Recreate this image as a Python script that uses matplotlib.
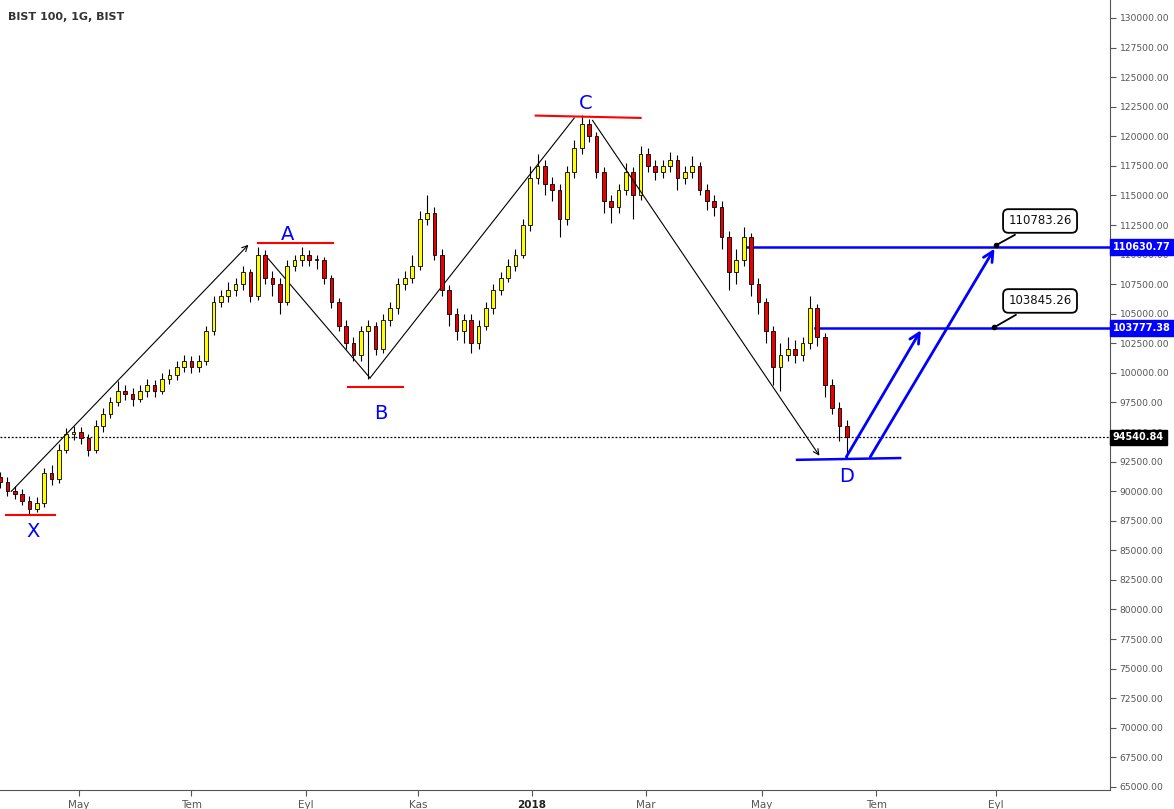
import matplotlib
matplotlib.use("Agg")
import matplotlib.pyplot as plt
import numpy as np
from matplotlib.transforms import blended_transform_factory

# ---- data (approximate) ----
opens = [91200,90800,90000,89800,89200,88500,89000,91500,91000,93500,
94800,95000,94500,93500,95500,96500,97500,98500,98200,97800,
98500,99000,98500,99500,99800,100500,101000,100500,101000,103500,
106000,106500,107000,107500,108500,106500,110000,108000,107500,106000,
109000,109500,110000,109500,109500,108000,106000,104000,102500,101500,
103500,104000,102000,104500,105500,107500,108000,109000,113000,113500,
110000,107000,105000,103500,104500,102500,104000,105500,107000,108000,
109000,110000,112500,116500,117500,116000,115500,113000,117000,119000,
121000,120000,117000,114500,114000,115500,117000,115000,118500,117500,
117000,117500,118000,116500,117000,117500,115500,114500,114000,111500,
108500,109500,111500,107500,106000,103500,100500,101500,102000,101500,
102500,105500,103000,99000,97000,95500]
closes = [90800,90000,89800,89200,88500,89000,91500,91000,93500,94800,
95000,94500,93500,95500,96500,97500,98500,98200,97800,98500,
99000,98500,99500,99800,100500,101000,100500,101000,103500,106000,
106500,107000,107500,108500,106500,110000,108000,107500,106000,109000,
109500,110000,109500,109500,108000,106000,104000,102500,101500,103500,
104000,102000,104500,105500,107500,108000,109000,113000,113500,110000,
107000,105000,103500,104500,102500,104000,105500,107000,108000,109000,
110000,112500,116500,117500,116000,115500,113000,117000,119000,121000,
120000,117000,114500,114000,115500,117000,115000,118500,117500,117000,
117500,118000,116500,117000,117500,115500,114500,114000,111500,108500,
109500,111500,107500,106000,103500,100500,101500,102000,101500,102500,
105500,103000,99000,97000,95500,94540]
highs = [91600,91200,90400,90200,89600,89500,92000,92200,94000,95300,
95500,95400,94800,96000,97000,98000,99300,99000,98700,99000,
99500,99400,100000,100300,101000,101500,101400,101500,104000,106500,
107000,107700,108000,109000,108800,110600,110400,108600,108000,109500,
110000,110600,110400,110000,109800,108300,106300,104500,103000,104000,
104500,104300,105000,106000,108000,108600,110000,113700,115000,114000,
110500,107400,105500,105000,105000,104500,106000,107500,108500,109600,
110500,113000,117500,118500,118000,116600,116000,117500,119700,121800,
121500,120400,117400,115000,116000,117700,117400,119200,119000,118000,
118000,118700,118400,117500,118300,117800,116000,115000,114500,112000,
110500,112300,111800,108000,106300,104000,102500,103000,102800,103000,
106500,105800,103400,99500,97500,96000]
lows = [90300,89600,89300,88800,88000,88200,88700,90500,90700,93200,
94300,94000,93000,93200,95000,96200,97200,97700,97200,97500,
98000,98000,98200,99100,99400,100100,100000,100100,100700,103200,
105600,106000,106500,107000,106000,106200,107500,106500,105000,105700,
108600,109000,109000,108800,107500,105500,103500,102000,101000,101000,
99500,101500,101700,104000,105000,107000,107600,108700,112500,109500,
106500,104000,102800,102500,101700,102000,103600,105000,106600,107700,
108600,109700,112000,116000,115000,114500,111500,112500,116500,118500,
119500,116500,113500,112700,113500,115000,113000,114600,117000,116300,
116500,117000,115500,116000,116500,115000,113800,113300,110500,107000,
107500,109000,106500,105000,102500,99000,98500,101000,100800,101000,
102000,102300,98000,96500,94200,92700]

last_price = 94540.84
level_hi = 110630.77
level_lo = 103777.38
callout_hi = "110783.26"
callout_lo = "103845.26"
month_labels = ["May", "Tem", "Eyl", "Kas", "2018", "Mar", "May", "Tem", "Eyl"]
month_days = [43, 104, 166, 227, 289, 351, 414, 476, 541]

# ---- figure ----
W, H = 1174, 809
fig = plt.figure(figsize=(W/100, H/100), dpi=100)
ax = fig.add_axes([0, 19/H, 1110/W, 1 - 19/H])
ax.set_xlim(0, 603)
ax.set_ylim(64740, 131520)

x = np.arange(len(closes)) * 4.0
for xi, o, h, l, c in zip(x, opens, highs, lows, closes):
    ax.vlines(xi, l, h, color="black", lw=0.8, zorder=2)
    col = "#ffff00" if c >= o else "#e60000"
    b = min(o, c); hgt = max(abs(c - o), 120)
    ax.bar(xi, hgt, bottom=b, width=2.0, color=col, edgecolor="black", lw=0.6, zorder=3)

# last price line
ax.axhline(last_price, color="black", ls=(0, (1.5, 1.5)), lw=0.9, zorder=1)

# ABCD pattern (black)
arrow_kw = dict(arrowstyle="->", color="black", lw=0.8, mutation_scale=10)
ax.annotate("", xy=(136, 111000), xytext=(5, 89800), arrowprops=arrow_kw)
ax.plot([144, 201], [109966, 99570], color="black", lw=0.8)
ax.plot([201, 312], [99570, 121550], color="black", lw=0.8)
ax.annotate("", xy=(446, 92800), xytext=(321, 121550), arrowprops=arrow_kw)

# red horizontal marks
for xs, ys in [([3, 30], [88000, 88000]), ([140, 181], [111000, 111000]),
               ([189, 219], [98800, 98800]), ([291, 348], [121750, 121550])]:
    ax.plot(xs, ys, color="red", lw=1.5)

# blue structure
ax.plot([433, 489], [92650, 92800], color="blue", lw=1.8)
bkw = dict(arrowstyle="->", color="blue", lw=2, mutation_scale=18)
ax.annotate("", xy=(501, 103800), xytext=(459, 92700), arrowprops=bkw)
ax.annotate("", xy=(541, 110700), xytext=(472, 92700), arrowprops=bkw)
ax.plot([405, 603], [level_hi, level_hi], color="blue", lw=1.8)
ax.plot([443, 603], [level_lo, level_lo], color="blue", lw=1.8)

# callouts
for dot_x, dot_y, txt, bx, by in [(541, 110783, callout_hi, 565, 112840),
                                   (540, 103845, callout_lo, 565, 106080)]:
    ax.plot(dot_x, dot_y, "o", color="black", ms=3)
    ax.annotate(txt, xy=(dot_x, dot_y), xytext=(bx, by), ha="center", va="center",
                fontsize=8.5, color="#111",
                bbox=dict(boxstyle="round,pad=0.45", fc="white", ec="black", lw=1.3),
                arrowprops=dict(arrowstyle="-", color="black", lw=1.3))

# letters
for t, xd, yd in [("X", 18, 86600), ("A", 156, 111700), ("B", 207, 96600),
                  ("C", 318, 122800), ("D", 460, 91200)]:
    ax.text(xd, yd, t, color="blue", fontsize=14, ha="center", va="center")

ax.text(0.007, 0.985, "BIST 100, 1G, BIST", transform=ax.transAxes, fontsize=8,
        color="#333", ha="left", va="top", fontweight="bold")

# axes styling
ax.yaxis.tick_right()
ax.set_yticks(np.arange(65000, 130001, 2500))
ax.set_yticklabels([f"{v:.2f}" for v in np.arange(65000, 130001, 2500)])
ax.tick_params(axis="y", labelsize=6.6, colors="#555", length=4, pad=3)
ax.set_xticks(month_days)
ax.set_xticklabels(month_labels)
ax.tick_params(axis="x", labelsize=7.5, colors="#555", length=4, pad=3)
for lbl in ax.get_xticklabels():
    if lbl.get_text() == "2018":
        lbl.set_fontweight("bold"); lbl.set_color("#222")
for s in ["top", "left"]:
    ax.spines[s].set_visible(False)
ax.spines["right"].set_color("#555")
ax.spines["bottom"].set_color("#555")

tr = blended_transform_factory(ax.transAxes, ax.transData)
for v, fc in [(last_price, "black"), (level_hi, "blue"), (level_lo, "blue")]:
    ax.text(1.0025, v, f"{v:.2f}", transform=tr, fontsize=7, color="white",
            fontweight="bold", ha="left", va="center", zorder=5,
            bbox=dict(boxstyle="square,pad=0.3", fc=fc, ec=fc))

fig.savefig("out.png", dpi=100)
